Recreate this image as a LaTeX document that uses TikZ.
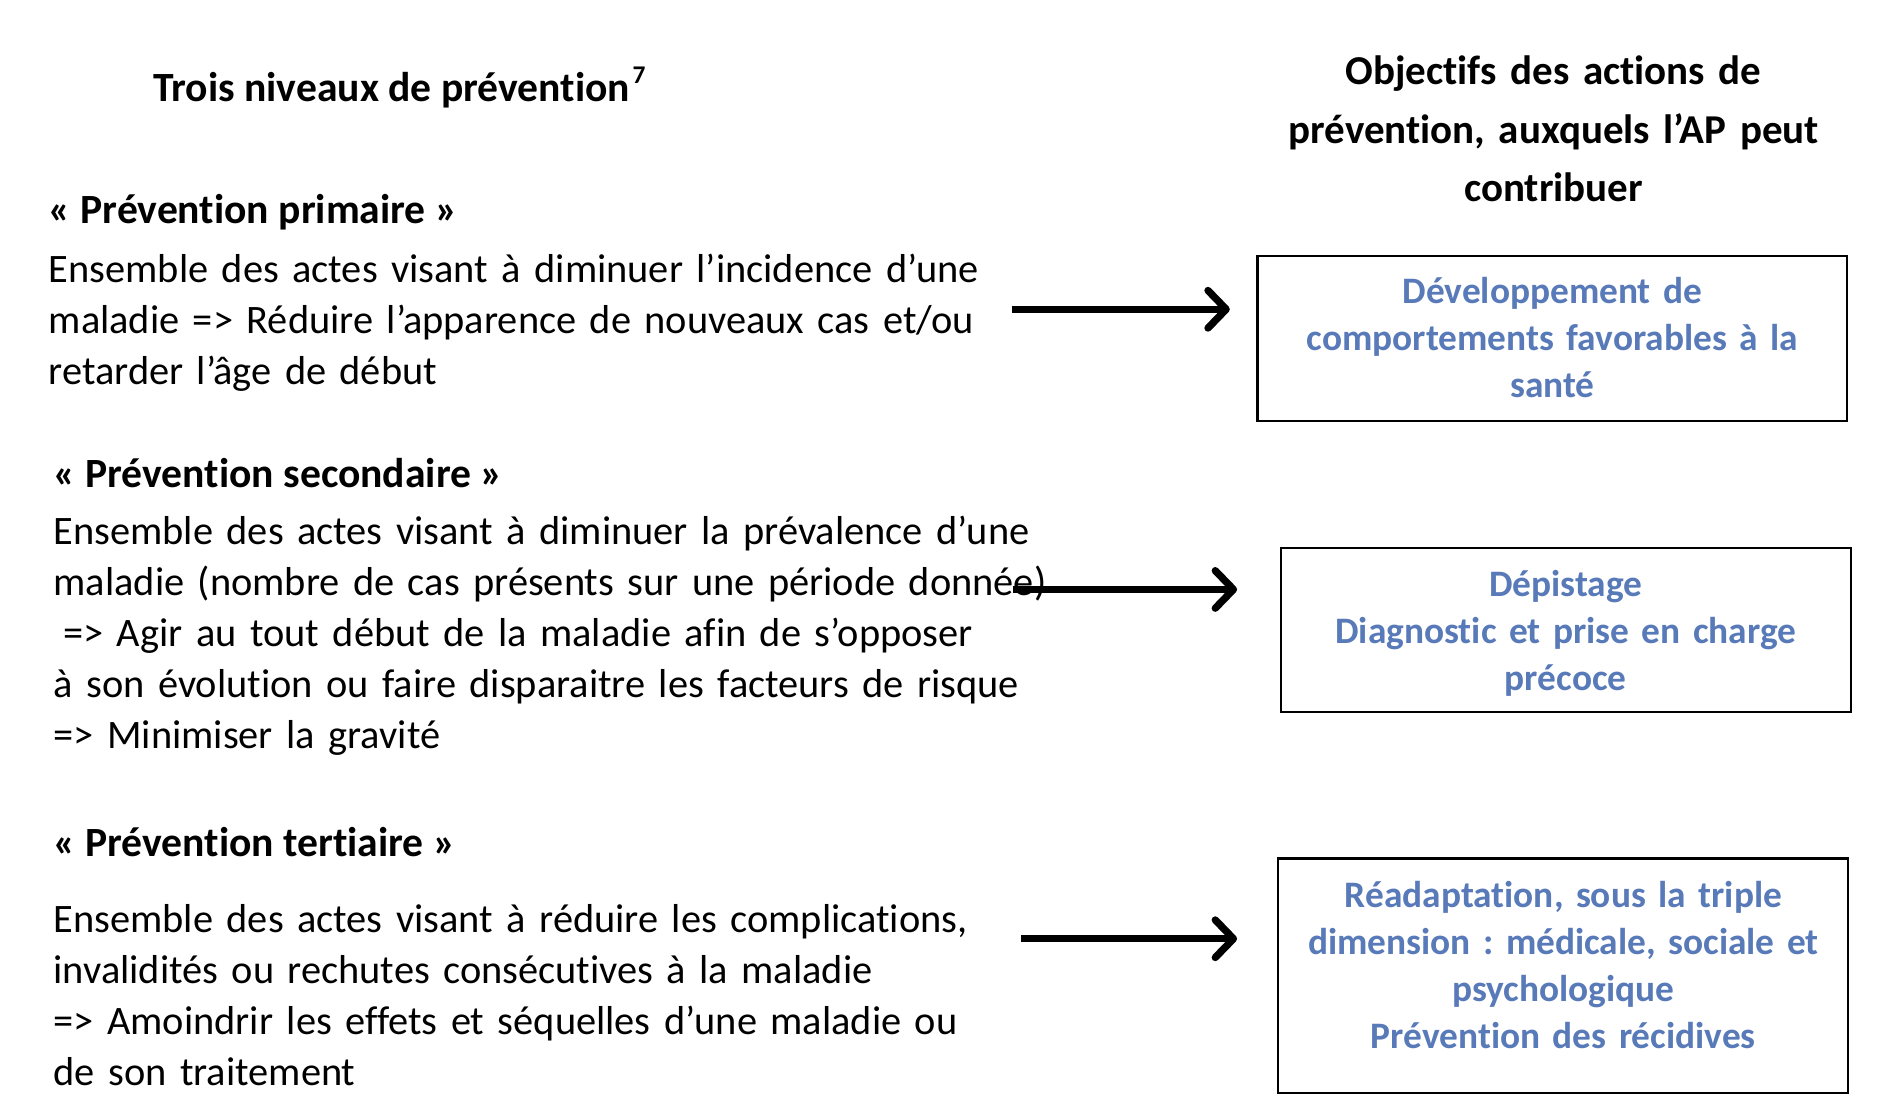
\documentclass[tikz,border=0pt]{standalone}
\usepackage{fontspec}
\setmainfont{Carlito}[Ligatures={NoCommon}]
\usetikzlibrary{arrows.meta}
\definecolor{boxblue}{RGB}{88,122,184}
\begin{document}
\frenchspacing
\begin{tikzpicture}[x=1pt,y=-1pt,
  body/.style={anchor=base west, inner sep=0pt, text width=950pt, align=left, font=\fontsize{33.3}{42}\selectfont},
  head/.style={anchor=base west, inner sep=0pt, font=\bfseries\fontsize{34.3}{42}\selectfont},
  coltitle/.style={anchor=base, inner sep=0pt, text width=600pt, align=center, font=\bfseries\fontsize{33.8}{48}\selectfont},
  goal/.style={draw=black, line width=1.8pt, anchor=north west, inner sep=0pt},
  goaltext/.style={anchor=base, inner sep=0pt, text width=520pt, align=center, text=boxblue, font=\bfseries\fontsize{30.8}{38.7}\selectfont},
  arr/.style={line width=6pt, -{Straight Barb[length=15pt,width=31pt,round]}}]
\useasboundingbox (0,0) rectangle (1560,918);
\fill[white] (0,0) rectangle (1560,918);

% titles
\node[head] (lefttitle) at (126,84) {Trois niveaux de prévention\kern2pt\raisebox{15pt}{\fontsize{21}{21}\selectfont 7}};
\node[coltitle] (righttitle) at (1281,70) {Objectifs des actions de\\prévention, auxquels l’AP peut\\contribuer};

% primary
\node[head] (h1) at (40,184) {« Prévention primaire »};
\node[body] (p1) at (40,233) {Ensemble des actes visant à diminuer l’incidence d’une\\maladie => Réduire l’apparence de nouveaux cas et/ou\\retarder l’âge de début};

% secondary
\node[head] (h2) at (44,402) {« Prévention secondaire »};
\node[body] (p2) at (44,449) {Ensemble des actes visant à diminuer la prévalence d’une\\maladie (nombre de cas présents sur une période donnée)\\\hspace*{8pt}=> Agir au tout début de la maladie afin de s’opposer\\à son évolution ou faire disparaitre les facteurs de risque\\=> Minimiser la gravité};

% tertiary
\node[head] (h3) at (44,706) {« Prévention tertiaire »};
\node[body] (p3) at (44,769) {Ensemble des actes visant à réduire les complications,\\invalidités ou rechutes consécutives à la maladie\\=> Amoindrir les effets et séquelles d’une maladie ou\\de son traitement};

% boxes
\node[goal, minimum width=486pt, minimum height=136pt] (b1) at (1036,210) {};
\node[goaltext] (t1) at (1280,250) {Développement de\\comportements favorables à la\\santé};
\node[goal, minimum width=470pt, minimum height=135pt] (b2) at (1055,451) {};
\node[goaltext] (t2) at (1291,492) {Dépistage\\Diagnostic et prise en charge\\précoce};
\node[goal, minimum width=470pt, minimum height=193pt] (b3) at (1053,707) {};
\node[goaltext] (t3) at (1289,748) {Réadaptation, sous la triple\\dimension : médicale, sociale et\\psychologique\\Prévention des récidives};

% arrows
\coordinate (a1s) at (834,255);
\coordinate (a1e) at (1014,255);
\coordinate (a2s) at (835,486);
\coordinate (a2e) at (1020,486);
\coordinate (a3s) at (842,774);
\coordinate (a3e) at (1020,774);
\draw[arr] (a1s) -- (a1e);
\draw[arr] (a2s) -- (a2e);
\draw[arr] (a3s) -- (a3e);
\end{tikzpicture}
\end{document}
